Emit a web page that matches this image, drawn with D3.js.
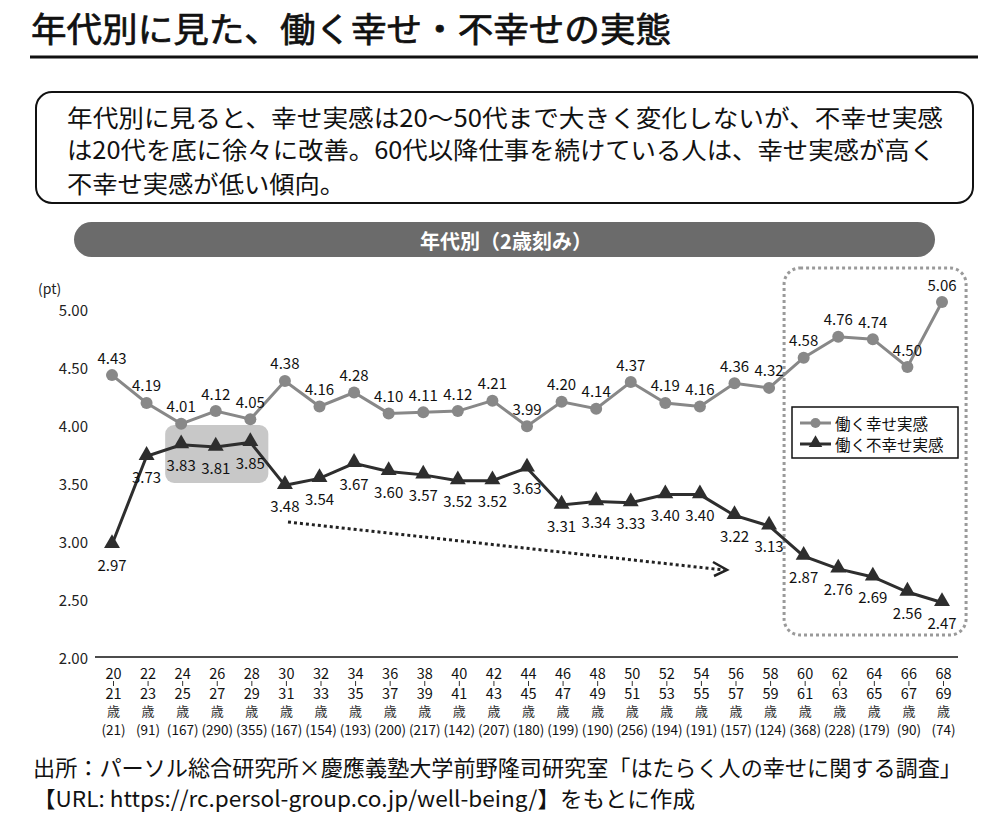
<!DOCTYPE html>
<html><head><meta charset="utf-8">
<script src="https://cdn.jsdelivr.net/npm/d3@7"></script>
<style>body{margin:0;background:#fff}svg{display:block}text{font-family:"Noto Sans CJK JP","Noto Sans",sans-serif}</style>
</head><body>
<script>
const ageStart = ["20","22","24","26","28","30","32","34","36","38","40","42","44","46","48","50","52","54","56","58","60","62","64","66","68"];
const ageEnd   = ["21","23","25","27","29","31","33","35","37","39","41","43","45","47","49","51","53","55","57","59","61","63","65","67","69"];
const counts   = [21,91,167,290,355,167,154,193,200,217,142,207,180,199,190,256,194,191,157,124,368,228,179,90,74];
const happy    = [4.43,4.19,4.01,4.12,4.05,4.38,4.16,4.28,4.10,4.11,4.12,4.21,3.99,4.20,4.14,4.37,4.19,4.16,4.36,4.32,4.58,4.76,4.74,4.50,5.06];
const unhappy  = [2.97,3.73,3.83,3.81,3.85,3.48,3.54,3.67,3.60,3.57,3.52,3.52,3.63,3.31,3.34,3.33,3.40,3.40,3.22,3.13,2.87,2.76,2.69,2.56,2.47];
const yTicks   = [2.00,2.50,3.00,3.50,4.00,4.50,5.00];
const seriesNames = ["働く幸せ実感","働く不幸せ実感"];
const titleText = "年代別に見た、働く幸せ・不幸せの実態";
const summaryLines = ["年代別に見ると、幸せ実感は20〜50代まで大きく変化しないが、不幸せ実感","は20代を底に徐々に改善。60代以降仕事を続けている人は、幸せ実感が高く","不幸せ実感が低い傾向。"];
const panelTitle = "年代別（2歳刻み）";
const sourceLines = ["出所：パーソル総合研究所×慶應義塾大学前野隆司研究室「はたらく人の幸せに関する調査」","【URL: https://rc.persol-group.co.jp/well-being/】をもとに作成"];

const W = 1000, H = 815;
const svg = d3.select("body").append("svg").attr("width", W).attr("height", H);

// Title
svg.append("text").attr("x", 31).attr("y", 27).attr("font-size", 34).attr("font-weight", 400)
  .attr("dominant-baseline", "central").attr("fill", "#111")
  .attr("stroke", "#111").attr("stroke-width", 0.7)
  .attr("textLength", 640).attr("lengthAdjust", "spacingAndGlyphs").text(titleText);
svg.append("line").attr("x1", 30).attr("x2", 978).attr("y1", 57).attr("y2", 57)
  .attr("stroke", "#111").attr("stroke-width", 3);

// Summary box
svg.append("rect").attr("x", 36).attr("y", 92).attr("width", 937).attr("height", 111)
  .attr("rx", 16).attr("fill", "#fff").attr("stroke", "#111").attr("stroke-width", 2);
const sumY = [116, 148, 182];
const sumLen = [876, 868, 278];
summaryLines.forEach((t, i) => {
  svg.append("text").attr("x", 67).attr("y", sumY[i]).attr("font-size", 24)
    .attr("dominant-baseline", "central").attr("fill", "#111")
    .attr("textLength", sumLen[i]).attr("lengthAdjust", "spacingAndGlyphs").text(t);
});

// Panel pill
svg.append("rect").attr("x", 74).attr("y", 222).attr("width", 861).attr("height", 35)
  .attr("rx", 17.5).attr("fill", "#6b6b6b");
svg.append("text").attr("x", 506).attr("y", 240).attr("text-anchor", "middle")
  .attr("dominant-baseline", "central").attr("font-size", 20).attr("font-weight", 700)
  .attr("fill", "#fff").text(panelTitle);

// Scales
const x = d3.scalePoint().domain(d3.range(ageStart.length)).range([112, 942]);
const y = d3.scaleLinear().domain([2, 5]).range([657, 309]);

// Highlight rect (24-29)
svg.append("rect").attr("x", x(2) - 16).attr("y", y(4.0)).attr("width", x(4) - x(2) + 34)
  .attr("height", y(3.5) - y(4.0)).attr("rx", 9).attr("fill", "#c8c8c8");

// Dotted box (60-69)
svg.append("rect").attr("x", x(19) + 15).attr("y", 268).attr("width", 182).attr("height", 367)
  .attr("rx", 16).attr("fill", "none").attr("stroke", "#9a9a9a").attr("stroke-width", 3)
  .attr("stroke-dasharray", "3,3");

// Y axis labels
const yAx = svg.append("g");
yTicks.forEach(t => {
  yAx.append("text").attr("x", 88).attr("y", y(t)).attr("text-anchor", "end")
    .attr("dominant-baseline", "central").attr("font-size", 15).attr("fill", "#222")
    .text(d3.format(".2f")(t));
});
svg.append("text").attr("x", 38).attr("y", 288).attr("dominant-baseline", "central")
  .attr("font-size", 14).attr("fill", "#222").text("(pt)");

// X axis line
svg.append("line").attr("x1", 95).attr("x2", 958).attr("y1", y(2)).attr("y2", y(2))
  .attr("stroke", "#111").attr("stroke-width", 1.5);

// X labels
const xl = svg.append("g");
ageStart.forEach((a, i) => {
  const cx = x(i) + 1.5;
  xl.append("text").attr("x", cx).attr("y", 672).attr("text-anchor", "middle")
    .attr("dominant-baseline", "central").attr("font-size", 14.5).attr("fill", "#111").text(a);
  xl.append("line").attr("x1", cx).attr("x2", cx).attr("y1", 681).attr("y2", 686)
    .attr("stroke", "#333").attr("stroke-width", 1);
  xl.append("text").attr("x", cx).attr("y", 692).attr("text-anchor", "middle")
    .attr("dominant-baseline", "central").attr("font-size", 14.5).attr("fill", "#111").text(ageEnd[i]);
  xl.append("text").attr("x", cx).attr("y", 710).attr("text-anchor", "middle")
    .attr("dominant-baseline", "central").attr("font-size", 13).attr("fill", "#333").text("歳");
  xl.append("text").attr("x", cx).attr("y", 729).attr("text-anchor", "middle")
    .attr("dominant-baseline", "central").attr("font-size", 13.5).attr("fill", "#111")
    .text("(" + counts[i] + ")");
});

// Dotted trend arrow
svg.append("line").attr("x1", 288).attr("y1", 522).attr("x2", 724).attr("y2", 570)
  .attr("stroke", "#222").attr("stroke-width", 3).attr("stroke-dasharray", "3,3");
svg.append("path").attr("d", "M713,562 L727,570 L714,576").attr("fill", "none")
  .attr("stroke", "#222").attr("stroke-width", 2.5);

// Lines
const line = d3.line().x((d, i) => x(i)).y(d => y(d));
svg.append("path").datum(happy).attr("d", line).attr("fill", "none")
  .attr("stroke", "#888").attr("stroke-width", 3);
svg.append("path").datum(unhappy).attr("d", line).attr("fill", "none")
  .attr("stroke", "#2e2e2e").attr("stroke-width", 3);

svg.append("g").selectAll("circle").data(happy).join("circle")
  .attr("cx", (d, i) => x(i)).attr("cy", d => y(d)).attr("r", 6).attr("fill", "#888");
const tri = d3.symbol(d3.symbolTriangle).size(110);
svg.append("g").selectAll("path").data(unhappy).join("path")
  .attr("d", tri).attr("transform", (d, i) => `translate(${x(i)},${y(d) - 1})`).attr("fill", "#2e2e2e");

// Data labels
svg.append("g").selectAll("text").data(happy).join("text")
  .attr("x", (d, i) => x(i)).attr("y", d => y(d) - 18).attr("text-anchor", "middle")
  .attr("dominant-baseline", "central").attr("font-size", 15).attr("fill", "#111")
  .text(d => d3.format(".2f")(d));
svg.append("g").selectAll("text").data(unhappy).join("text")
  .attr("x", (d, i) => x(i)).attr("y", d => y(d) + 20).attr("text-anchor", "middle")
  .attr("dominant-baseline", "central").attr("font-size", 15).attr("fill", "#111")
  .text(d => d3.format(".2f")(d));

// Legend
const lg = svg.append("g");
lg.append("rect").attr("x", 792).attr("y", 407).attr("width", 166).attr("height", 51)
  .attr("fill", "#fff").attr("stroke", "#111").attr("stroke-width", 1.5);
const lgY = [423, 444];
lg.append("line").attr("x1", 800).attr("x2", 831).attr("y1", lgY[0]).attr("y2", lgY[0])
  .attr("stroke", "#888").attr("stroke-width", 3);
lg.append("circle").attr("cx", 815.5).attr("cy", lgY[0]).attr("r", 5).attr("fill", "#888");
lg.append("line").attr("x1", 800).attr("x2", 831).attr("y1", lgY[1]).attr("y2", lgY[1])
  .attr("stroke", "#2e2e2e").attr("stroke-width", 3);
lg.append("path").attr("d", d3.symbol(d3.symbolTriangle).size(80))
  .attr("transform", `translate(815.5,${lgY[1] - 1})`).attr("fill", "#2e2e2e");
seriesNames.forEach((s, i) => {
  lg.append("text").attr("x", 835).attr("y", lgY[i]).attr("dominant-baseline", "central")
    .attr("font-size", 15.5).attr("fill", "#111").text(s);
});

// Source
const srcY = [766, 797];
const srcLen = [929, 662];
sourceLines.forEach((t, i) => {
  svg.append("text").attr("x", 33).attr("y", srcY[i]).attr("dominant-baseline", "central")
    .attr("font-size", 22).attr("fill", "#111")
    .attr("textLength", srcLen[i]).attr("lengthAdjust", "spacingAndGlyphs").text(t);
});
</script>
</body></html>
